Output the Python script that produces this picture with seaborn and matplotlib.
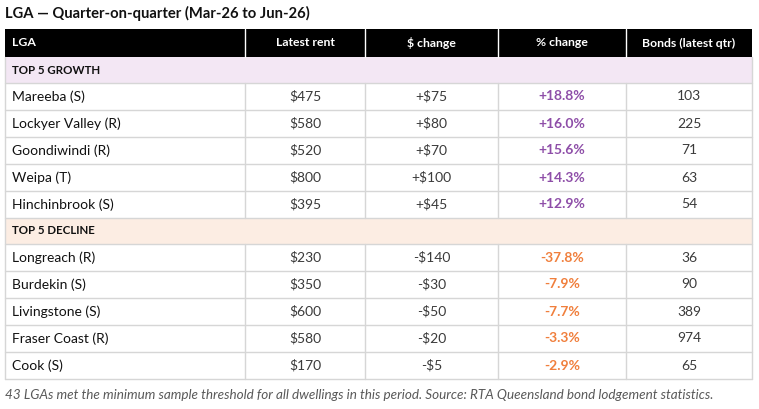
import matplotlib
matplotlib.use("Agg")
import matplotlib.pyplot as plt
import seaborn as sns
from matplotlib.patches import Rectangle

# --- Data ---
columns = ["LGA", "Latest rent", "$ change", "% change", "Bonds (latest qtr)"]

growth_lga = ["Mareeba (S)", "Lockyer Valley (R)", "Goondiwindi (R)", "Weipa (T)", "Hinchinbrook (S)"]
growth_rent = [475, 580, 520, 800, 395]
growth_change = [75, 80, 70, 100, 45]
growth_pct = [18.8, 16.0, 15.6, 14.3, 12.9]
growth_bonds = [103, 225, 71, 63, 54]

decline_lga = ["Longreach (R)", "Burdekin (S)", "Livingstone (S)", "Fraser Coast (R)", "Cook (S)"]
decline_rent = [230, 350, 600, 580, 170]
decline_change = [-140, -30, -50, -20, -5]
decline_pct = [-37.8, -7.9, -7.7, -3.3, -2.9]
decline_bonds = [36, 90, 389, 974, 65]

title = "LGA \u2014 Quarter-on-quarter (Mar-26 to Jun-26)"
footnote = ("43 LGAs met the minimum sample threshold for all dwellings in this period. "
            "Source: RTA Queensland bond lodgement statistics.")

# --- Style ---
sns.set_theme(style="white")
plt.rcParams["font.family"] = ["Lato", "DejaVu Sans"]

GRID = "#d6d6d6"
PURPLE = "#8e4ea8"
ORANGE = "#f07f3c"
GROWTH_BG = "#f3e7f4"
DECLINE_BG = "#fcede3"
TEXT = "#111111"
NUM = "#3a3a3a"

col_edges = [5, 245, 365, 498, 626, 752]
table_top = 29
head_h = 28
sect_h = 26
row_h = 27
fs = 10


def money(v):
    return f"${v}"


def signed_money(v):
    return f"+${v}" if v >= 0 else f"-${abs(v)}"


def signed_pct(v):
    return f"+{v:.1f}%" if v >= 0 else f"-{abs(v):.1f}%"


fig = plt.figure(figsize=(7.59, 4.09), dpi=100)
ax = fig.add_axes([0, 0, 1, 1])
ax.set_xlim(0, 759)
ax.set_ylim(409, 0)
ax.axis("off")

left, right = col_edges[0], col_edges[-1]
width = right - left

ax.text(left, 13, title, fontsize=10.6, fontweight="bold", color="#111111",
        va="center", ha="left")

# header
y = table_top
ax.add_patch(Rectangle((left, y), width, head_h, facecolor="black", edgecolor="none"))
for x in col_edges[1:-1]:
    ax.plot([x, x], [y, y + head_h], color="white", lw=1)
for i, name in enumerate(columns):
    if i == 0:
        ax.text(left + 7, y + head_h / 2, name, color="white", fontsize=8.8,
                fontweight="bold", va="center", ha="left")
    else:
        cx = (col_edges[i] + col_edges[i + 1]) / 2
        ax.text(cx, y + head_h / 2, name, color="white", fontsize=8.8,
                fontweight="bold", va="center", ha="center")
y += head_h


def section(y, label, bg):
    ax.add_patch(Rectangle((left, y), width, sect_h, facecolor=bg, edgecolor="none"))
    ax.text(left + 7, y + sect_h / 2, label, color=TEXT, fontsize=8.3,
            fontweight="bold", va="center", ha="left")
    ax.plot([left, right], [y + sect_h, y + sect_h], color=GRID, lw=1)
    return y + sect_h


def body(y, lgas, rents, changes, pcts, bonds, pct_color):
    for lga, r, c, p, b in zip(lgas, rents, changes, pcts, bonds):
        cells = [money(r), signed_money(c), signed_pct(p), str(b)]
        ax.text(left + 7, y + row_h / 2, lga, color=TEXT, fontsize=fs,
                va="center", ha="left")
        for j, val in enumerate(cells):
            cx = (col_edges[j + 1] + col_edges[j + 2]) / 2
            is_pct = j == 2
            ax.text(cx, y + row_h / 2, val, fontsize=fs,
                    color=pct_color if is_pct else NUM,
                    fontweight="bold" if is_pct else "normal",
                    va="center", ha="center")
        for x in col_edges[1:-1]:
            ax.plot([x, x], [y, y + row_h], color=GRID, lw=1)
        ax.plot([left, right], [y + row_h, y + row_h], color=GRID, lw=1)
        y += row_h
    return y


y = section(y, "TOP 5 GROWTH", GROWTH_BG)
y = body(y, growth_lga, growth_rent, growth_change, growth_pct, growth_bonds, PURPLE)
y = section(y, "TOP 5 DECLINE", DECLINE_BG)
y = body(y, decline_lga, decline_rent, decline_change, decline_pct, decline_bonds, ORANGE)

# outer border of the body
ax.plot([left, left], [table_top + head_h, y], color=GRID, lw=1)
ax.plot([right, right], [table_top + head_h, y], color=GRID, lw=1)

ax.text(left, y + 16, footnote, fontsize=9.7, style="italic", color="#595959",
        va="center", ha="left")

fig.savefig("out.png", dpi=100)
